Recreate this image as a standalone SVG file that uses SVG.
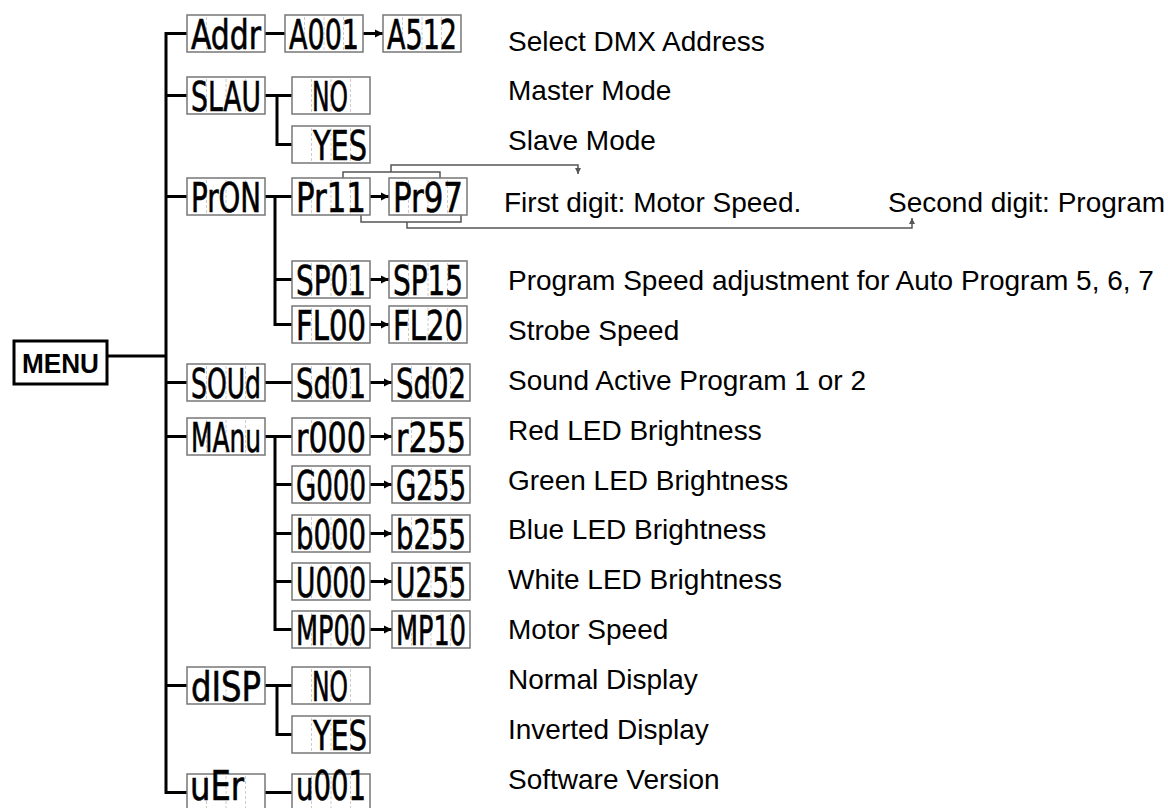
<svg xmlns="http://www.w3.org/2000/svg" xmlns:xlink="http://www.w3.org/1999/xlink" width="1168" height="808" viewBox="0 0 1168 808">
<style>
.lcd rect{fill:#fff;stroke:#777;stroke-width:1.5}
.lcd text{font-family:"DejaVu Sans Condensed","DejaVu Sans",sans-serif;font-weight:normal;font-size:40px;fill:#000;stroke:#000;stroke-width:0.6}
.cells{stroke:#ccc;stroke-width:1;stroke-dasharray:3 2}
.conn{fill:none;stroke:#000;stroke-width:3}
.thin{fill:none;stroke:#555;stroke-width:1.5}
.desc{font-family:"Liberation Sans",Arial,sans-serif;font-size:28px;fill:#000}
</style>
<defs>
<marker id="arr" markerUnits="userSpaceOnUse" markerWidth="9" markerHeight="9" refX="8" refY="4.5" orient="auto"><path d="M0,0.5 L8,4.5 L0,8.5 z" fill="#000"/></marker>
<marker id="arrs" markerUnits="userSpaceOnUse" markerWidth="7" markerHeight="7" refX="6" refY="3.5" orient="auto"><path d="M0,0.5 L6,3.5 L0,6.5 z" fill="#555"/></marker>
<path id="cl" class="cells" d="M19.5,2 V35 M39,2 V35 M58.5,2 V35"/>
</defs>
<rect width="1168" height="808" fill="#fff"/>

<g id="connectors">
<path class="conn" d="M187,33.5 H166 V792.5 H187 M166,95.5 H187 M166,196.5 H187 M107,356 H166 M166,382.5 H187 M166,436.5 H187 M166,685.5 H187"/>
<path class="conn" d="M265,33.5 H285 M265,95.5 H292 M277,95.5 V144.5 H292 M265,196.5 H292 M275,196.5 V324.5 H292 M275,279.5 H292 M265,382.5 H292 M265,436.5 H292 M275,436.5 V629.5 H292 M275,484.5 H292 M275,533.5 H292 M275,581.5 H292 M265,685.5 H292 M277,685.5 V734.5 H292 M265,792.5 H292"/>
<path class="conn" d="M363,33.5 H383" marker-end="url(#arr)"/>
<path class="conn" d="M370,196.5 H389" marker-end="url(#arr)"/>
<path class="conn" d="M370,279.5 H389" marker-end="url(#arr)"/>
<path class="conn" d="M370,324.5 H389" marker-end="url(#arr)"/>
<path class="conn" d="M370,382.5 H392" marker-end="url(#arr)"/>
<path class="conn" d="M370,436.5 H392" marker-end="url(#arr)"/>
<path class="conn" d="M370,484.5 H392" marker-end="url(#arr)"/>
<path class="conn" d="M370,533.5 H392" marker-end="url(#arr)"/>
<path class="conn" d="M370,581.5 H392" marker-end="url(#arr)"/>
<path class="conn" d="M370,629.5 H392" marker-end="url(#arr)"/>
<path class="thin" d="M343,178 V172 H440 V178"/>
<path class="thin" d="M391,172 V165 H578 V174" marker-end="url(#arrs)"/>
<path class="thin" d="M361,215 V222 H461 V215"/>
<path class="thin" d="M407,222 V228 H912 V218" marker-end="url(#arrs)"/>
</g>

<g id="menu">
<rect x="14" y="341" width="93" height="43" fill="#fff" stroke="#000" stroke-width="3"/>
<text x="22" y="373" font-family="Liberation Sans,Arial,sans-serif" font-weight="bold" font-size="27" textLength="77" lengthAdjust="spacingAndGlyphs">MENU</text>
</g>

<g id="addr" class="lcd"><rect x="187" y="15" width="78" height="37"/><use href="#cl" x="187" y="15"/><text x="191" y="49" textLength="70" lengthAdjust="spacingAndGlyphs">Addr</text></g>
<g id="a001" class="lcd"><rect x="285" y="15" width="78" height="37"/><use href="#cl" x="285" y="15"/><text x="289" y="49" textLength="70" lengthAdjust="spacingAndGlyphs">A001</text></g>
<g id="a512" class="lcd"><rect x="383" y="15" width="78" height="37"/><use href="#cl" x="383" y="15"/><text x="387" y="49" textLength="70" lengthAdjust="spacingAndGlyphs">A512</text></g>

<g id="slau" class="lcd"><rect x="187" y="77" width="78" height="37"/><use href="#cl" x="187" y="77"/><text x="191" y="111" textLength="70" lengthAdjust="spacingAndGlyphs">SLAU</text></g>
<g id="slau-no" class="lcd"><rect x="292" y="77" width="78" height="37"/><use href="#cl" x="292" y="77"/><text x="312" y="111" textLength="36" lengthAdjust="spacingAndGlyphs">NO</text></g>
<g id="slau-yes" class="lcd"><rect x="292" y="126" width="78" height="37"/><use href="#cl" x="292" y="126"/><text x="313" y="160" textLength="54" lengthAdjust="spacingAndGlyphs">YES</text></g>

<g id="pron" class="lcd"><rect x="187" y="178" width="78" height="37"/><use href="#cl" x="187" y="178"/><text x="191" y="212" textLength="70" lengthAdjust="spacingAndGlyphs">PrON</text></g>
<g id="pr11" class="lcd"><rect x="292" y="178" width="78" height="37"/><use href="#cl" x="292" y="178"/><text x="296" y="212" textLength="70" lengthAdjust="spacingAndGlyphs">Pr11</text></g>
<g id="pr97" class="lcd"><rect x="389" y="178" width="78" height="37"/><use href="#cl" x="389" y="178"/><text x="393" y="212" textLength="70" lengthAdjust="spacingAndGlyphs">Pr97</text></g>
<g id="sp01" class="lcd"><rect x="292" y="261" width="78" height="37"/><use href="#cl" x="292" y="261"/><text x="296" y="295" textLength="70" lengthAdjust="spacingAndGlyphs">SP01</text></g>
<g id="sp15" class="lcd"><rect x="389" y="261" width="78" height="37"/><use href="#cl" x="389" y="261"/><text x="393" y="295" textLength="70" lengthAdjust="spacingAndGlyphs">SP15</text></g>
<g id="fl00" class="lcd"><rect x="292" y="306" width="78" height="37"/><use href="#cl" x="292" y="306"/><text x="296" y="340" textLength="70" lengthAdjust="spacingAndGlyphs">FL00</text></g>
<g id="fl20" class="lcd"><rect x="389" y="306" width="78" height="37"/><use href="#cl" x="389" y="306"/><text x="393" y="340" textLength="70" lengthAdjust="spacingAndGlyphs">FL20</text></g>

<g id="soud" class="lcd"><rect x="187" y="364" width="78" height="37"/><use href="#cl" x="187" y="364"/><text x="191" y="398" textLength="70" lengthAdjust="spacingAndGlyphs">SOUd</text></g>
<g id="sd01" class="lcd"><rect x="292" y="364" width="78" height="37"/><use href="#cl" x="292" y="364"/><text x="296" y="398" textLength="70" lengthAdjust="spacingAndGlyphs">Sd01</text></g>
<g id="sd02" class="lcd"><rect x="392" y="364" width="78" height="37"/><use href="#cl" x="392" y="364"/><text x="396" y="398" textLength="70" lengthAdjust="spacingAndGlyphs">Sd02</text></g>

<g id="manu" class="lcd"><rect x="187" y="418" width="78" height="37"/><use href="#cl" x="187" y="418"/><text x="191" y="452" textLength="70" lengthAdjust="spacingAndGlyphs">MAnu</text></g>
<g id="r000" class="lcd"><rect x="292" y="418" width="78" height="37"/><use href="#cl" x="292" y="418"/><text x="296" y="452" textLength="70" lengthAdjust="spacingAndGlyphs">r000</text></g>
<g id="r255" class="lcd"><rect x="392" y="418" width="78" height="37"/><use href="#cl" x="392" y="418"/><text x="396" y="452" textLength="70" lengthAdjust="spacingAndGlyphs">r255</text></g>
<g id="g000" class="lcd"><rect x="292" y="466" width="78" height="37"/><use href="#cl" x="292" y="466"/><text x="296" y="500" textLength="70" lengthAdjust="spacingAndGlyphs">G000</text></g>
<g id="g255" class="lcd"><rect x="392" y="466" width="78" height="37"/><use href="#cl" x="392" y="466"/><text x="396" y="500" textLength="70" lengthAdjust="spacingAndGlyphs">G255</text></g>
<g id="b000" class="lcd"><rect x="292" y="515" width="78" height="37"/><use href="#cl" x="292" y="515"/><text x="296" y="549" textLength="70" lengthAdjust="spacingAndGlyphs">b000</text></g>
<g id="b255" class="lcd"><rect x="392" y="515" width="78" height="37"/><use href="#cl" x="392" y="515"/><text x="396" y="549" textLength="70" lengthAdjust="spacingAndGlyphs">b255</text></g>
<g id="u000" class="lcd"><rect x="292" y="563" width="78" height="37"/><use href="#cl" x="292" y="563"/><text x="296" y="597" textLength="70" lengthAdjust="spacingAndGlyphs">U000</text></g>
<g id="u255" class="lcd"><rect x="392" y="563" width="78" height="37"/><use href="#cl" x="392" y="563"/><text x="396" y="597" textLength="70" lengthAdjust="spacingAndGlyphs">U255</text></g>
<g id="mp00" class="lcd"><rect x="292" y="611" width="78" height="37"/><use href="#cl" x="292" y="611"/><text x="296" y="645" textLength="70" lengthAdjust="spacingAndGlyphs">MP00</text></g>
<g id="mp10" class="lcd"><rect x="392" y="611" width="78" height="37"/><use href="#cl" x="392" y="611"/><text x="396" y="645" textLength="70" lengthAdjust="spacingAndGlyphs">MP10</text></g>

<g id="disp" class="lcd"><rect x="187" y="667" width="78" height="37"/><use href="#cl" x="187" y="667"/><text x="191" y="701" textLength="70" lengthAdjust="spacingAndGlyphs">dISP</text></g>
<g id="disp-no" class="lcd"><rect x="292" y="667" width="78" height="37"/><use href="#cl" x="292" y="667"/><text x="312" y="701" textLength="36" lengthAdjust="spacingAndGlyphs">NO</text></g>
<g id="disp-yes" class="lcd"><rect x="292" y="716" width="78" height="37"/><use href="#cl" x="292" y="716"/><text x="313" y="750" textLength="54" lengthAdjust="spacingAndGlyphs">YES</text></g>

<g id="uer" class="lcd"><rect x="187" y="774" width="78" height="37"/><use href="#cl" x="187" y="774"/><text x="190" y="800" font-size="28" textLength="54" lengthAdjust="spacingAndGlyphs">uEr</text></g>
<g id="u001" class="lcd"><rect x="292" y="774" width="78" height="37"/><use href="#cl" x="292" y="774"/><text x="296" y="800" font-size="28" textLength="70" lengthAdjust="spacingAndGlyphs">u001</text></g>

<g id="descriptions">
<text class="desc" x="508" y="51">Select DMX Address</text>
<text class="desc" x="508" y="100">Master Mode</text>
<text class="desc" x="508" y="150">Slave Mode</text>
<text class="desc" x="504" y="212">First digit: Motor Speed.</text>
<text class="desc" x="888" y="212">Second digit: Program</text>
<text class="desc" x="508" y="290">Program Speed adjustment for Auto Program 5, 6, 7</text>
<text class="desc" x="508" y="340">Strobe Speed</text>
<text class="desc" x="508" y="390">Sound Active Program 1 or 2</text>
<text class="desc" x="508" y="440">Red LED Brightness</text>
<text class="desc" x="508" y="490">Green LED Brightness</text>
<text class="desc" x="508" y="539">Blue LED Brightness</text>
<text class="desc" x="508" y="589">White LED Brightness</text>
<text class="desc" x="508" y="639">Motor Speed</text>
<text class="desc" x="508" y="689">Normal Display</text>
<text class="desc" x="508" y="739">Inverted Display</text>
<text class="desc" x="508" y="789">Software Version</text>
</g>
</svg>
